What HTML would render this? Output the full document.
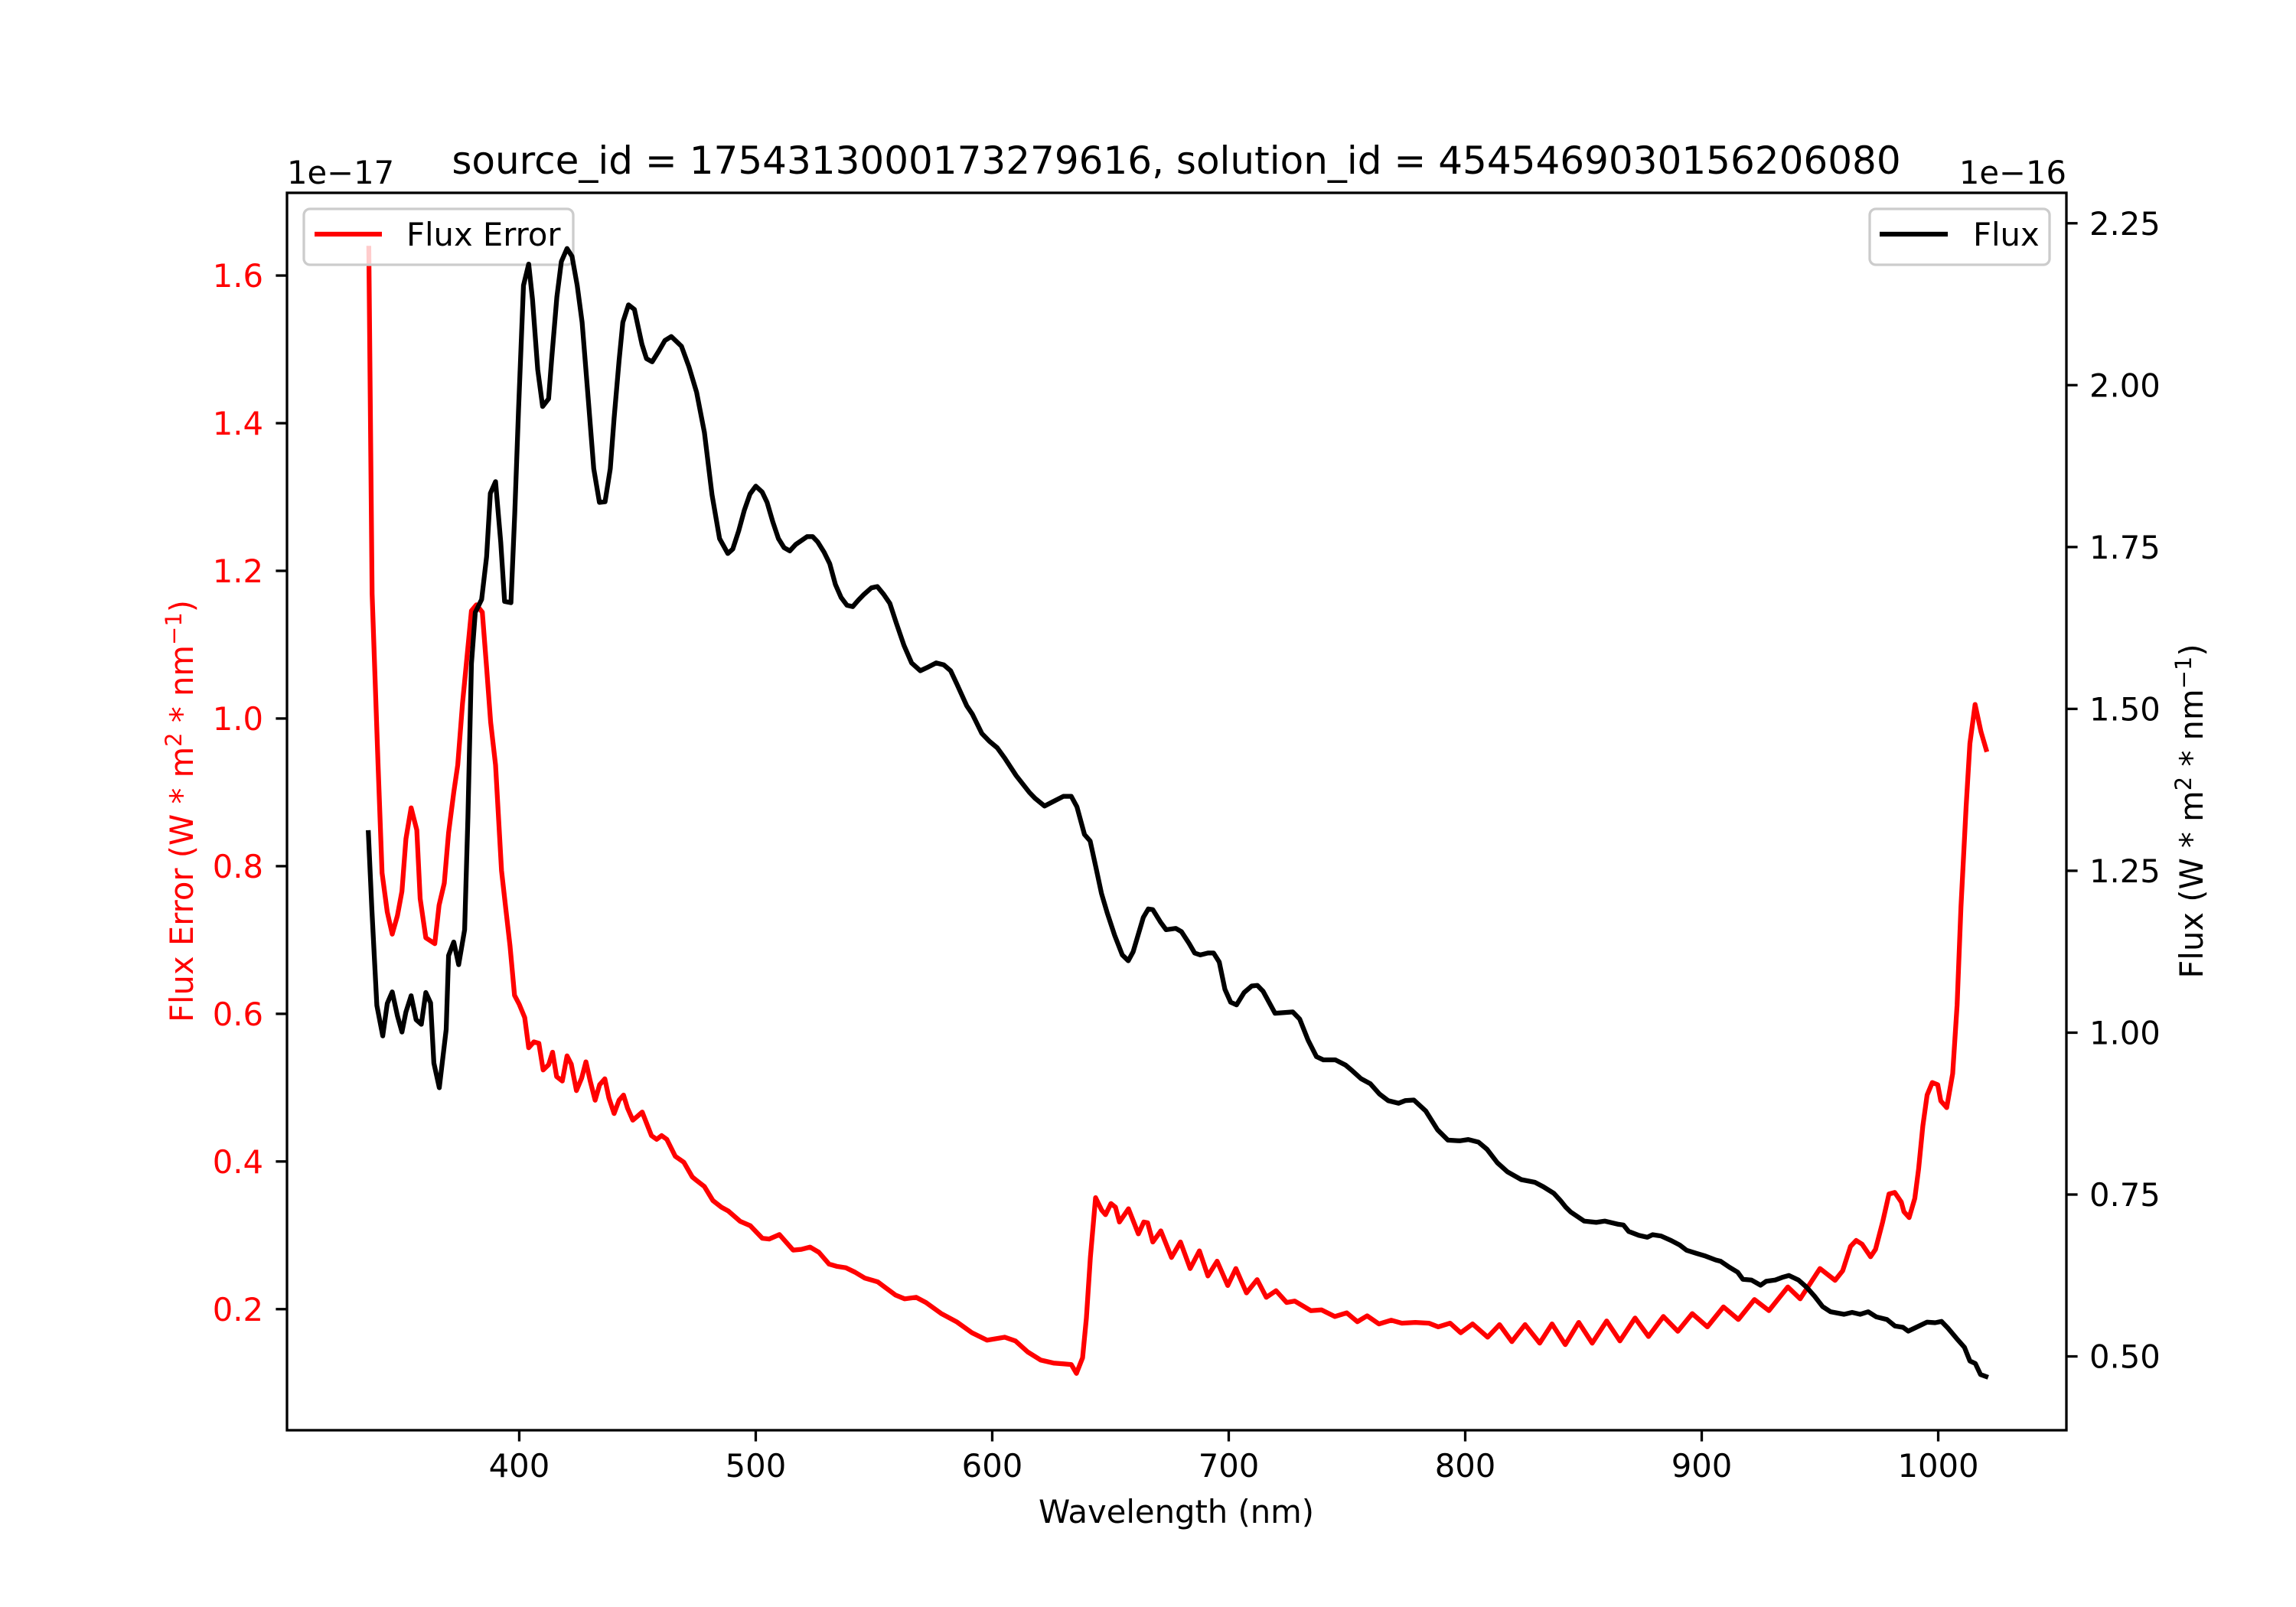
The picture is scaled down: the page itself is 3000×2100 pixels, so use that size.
<!DOCTYPE html>
<html>
<head>
<meta charset="utf-8">
<style>
  html, body { margin:0; padding:0; background:#fff; }
  svg { display:block; font-family: "DejaVu Sans", "Liberation Sans", sans-serif; }
</style>
</head>
<body>
<svg id="chart" xmlns="http://www.w3.org/2000/svg" width="3000" height="2100" viewBox="0 0 3000 2100">
  <rect x="0" y="0" width="3000" height="2100" fill="#fff"/>
  <text x="1537" y="227" font-size="50" text-anchor="middle" fill="#000">source_id = 1754313000173279616, solution_id = 4545469030156206080</text>
  <text x="375" y="240" font-size="41.7" text-anchor="start" fill="#000">1e−17</text>
  <text x="2700" y="240" font-size="41.7" text-anchor="end" fill="#000">1e−16</text>
  <g id="ticks"></g>
  <g id="series"></g>
  <text x="1537" y="1990" font-size="41.7" text-anchor="middle" fill="#000">Wavelength (nm)</text>
  <text transform="translate(252,1060) rotate(-90)" font-size="41.7" text-anchor="middle" fill="#ff0000">Flux Error (W * m<tspan dy="-15" font-size="29">2</tspan><tspan dy="15"> * nm</tspan><tspan dy="-15" font-size="29">−1</tspan><tspan dy="15">)</tspan></text>
  <text transform="translate(2878,1060) rotate(-90)" font-size="41.7" text-anchor="middle" fill="#000">Flux (W * m<tspan dy="-15" font-size="29">2</tspan><tspan dy="15"> * nm</tspan><tspan dy="-15" font-size="29">−1</tspan><tspan dy="15">)</tspan></text>
</svg>
<script>
const xTicks = [400, 500, 600, 700, 800, 900, 1000];
const leftTicks = [0.2, 0.4, 0.6, 0.8, 1.0, 1.2, 1.4, 1.6];
const leftTickLabels = ["0.2","0.4","0.6","0.8","1.0","1.2","1.4","1.6"];
const rightTicks = [0.5, 0.75, 1.0, 1.25, 1.5, 1.75, 2.0, 2.25];
const rightTickLabels = ["0.50","0.75","1.00","1.25","1.50","1.75","2.00","2.25"];

const fluxWl = [336.2,337.7,339.8,342.3,344.2,346.3,348.5,350.4,352.1,354.3,356.4,358.6,360.5,362.5,363.9,366.2,369.1,370.1,372.3,374.4,376.9,378.3,
379.8,381.4,384.1,386.2,387.8,390.0,392.2,393.8,396.5,398.1,399.7,401.8,404.0,405.6,407.8,409.9,412.4,413.7,415.9,417.8,420.2,422.3,424.5,426.6,429.3,431.5,433.9,436.3,438.5,440.1,442.2,443.8,446.2,448.7,451.9,453.8,456.2,458.9,461.6,464.3,468.6,471.8,475.0,478.3,481.5,484.7,
488.2,490.3,492.8,495.2,497.6,500.0,502.7,504.8,507.2,509.6,512.0,514.4,516.9,521.7,524.1,526.2,528.9,531.3,533.7,536.1,538.6,541.0,543.4,545.8,548.9,551.4,554.1,556.7,559.4,562.7,565.9,569.6,573.1,576.3,579.5,582.4,585.1,589.2,591.6,595.6,598.8,602.1,605.3,610.1,615.7,618.1,622.1,625.3,630.1,633.4,635.8,639.0,641.4,643.8,646.2,648.6,651.8,655.0,657.5,659.6,663.9,666.0,667.9,671.1,673.5,677.6,680.0,683.2,685.6,688.0,691.2,693.6,696.0,698.4,700.8,703.3,706.5,709.7,712.1,714.5,
719.6,727.1,730.0,733.6,737.1,740.0,745.1,749.4,752.3,755.9,759.9,763.8,767.4,771.8,774.6,778.3,783.3,788.3,792.7,797.7,801.3,805.6,809.2,813.6,817.9,823.7,829.4,833.0,837.4,840.2,842.4,844.6,850.3,855.4,859.0,864.8,866.9,869.1,873.4,877.0,879.2,882.8,887.1,890.7,893.6,897.9,901.6,905.9,908.0,911.6,915.2,917.4,921.0,924.9,927.2,931.1,934.0,936.9,
940.9,944.3,947.7,951.1,954.5,960.2,963.6,967.0,970.4,973.8,978.3,981.7,985.1,987.3,990.7,995.3,998.7,1001.4,1004.3,1007.7,1011.1,1013.4,1015.7,1017.9,1020.2];
const fluxVal = [1.309,1.190,1.042,0.995,1.045,1.063,1.026,1.001,1.032,1.057,1.020,1.013,1.062,1.046,0.953,0.915,1.005,1.119,1.140,1.105,1.159,1.333,
1.570,1.649,1.669,1.735,1.833,1.851,1.757,1.666,1.664,1.802,1.961,2.154,2.187,2.132,2.024,1.967,1.979,2.040,2.136,2.191,2.211,2.199,2.154,2.097,1.973,1.871,1.819,1.820,1.871,1.949,2.038,2.097,2.124,2.117,2.063,2.041,2.036,2.052,2.069,2.075,2.060,2.028,1.989,1.927,1.831,1.763,
1.740,1.747,1.775,1.807,1.832,1.844,1.835,1.819,1.789,1.763,1.749,1.744,1.754,1.766,1.766,1.758,1.742,1.724,1.692,1.672,1.660,1.658,1.668,1.677,1.687,1.689,1.677,1.663,1.633,1.598,1.571,1.559,1.565,1.571,1.568,1.559,1.538,1.505,1.492,1.462,1.450,1.440,1.424,1.397,1.371,1.362,1.350,1.356,1.365,1.365,1.349,1.306,1.296,1.256,1.215,1.185,1.150,1.120,1.111,1.125,1.178,1.191,1.190,1.171,1.159,1.161,1.156,1.138,1.123,1.120,1.123,1.123,1.109,1.067,1.047,1.043,1.062,1.072,1.073,1.064,
1.030,1.032,1.021,0.988,0.963,0.958,0.958,0.950,0.941,0.929,0.921,0.905,0.895,0.891,0.895,0.896,0.879,0.850,0.834,0.833,0.835,0.831,0.820,0.799,0.785,0.773,0.769,0.762,0.752,0.741,0.731,0.723,0.709,0.707,0.709,0.704,0.703,0.693,0.687,0.684,0.688,0.686,0.679,0.672,0.664,0.659,0.655,0.649,0.647,0.638,0.630,0.619,0.618,0.610,0.616,0.618,0.622,0.625,
0.618,0.607,0.593,0.577,0.569,0.565,0.568,0.565,0.569,0.561,0.557,0.547,0.545,0.539,0.545,0.553,0.552,0.554,0.543,0.528,0.514,0.493,0.489,0.472,0.469];

const errWl = [336.4,337.8,340.3,342.0,344.2,346.3,348.5,350.4,352.1,354.3,356.7,358.1,360.5,364.3,366.1,368.3,370.1,372.3,374.0,376.0,379.8,381.9,384.4,386.2,387.9,390.0,
392.5,394.3,396.1,398.0,400.0,402.3,404.0,406.2,408.3,410.1,412.4,414.1,415.8,418.2,420.2,422.0,424.2,426.4,428.2,430.0,432.1,434.0,436.2,437.9,440.1,442.2,444.1,445.8,448.0,449.9,452.0,453.7,455.9,458.1,460.2,462.4,466.0,469.6,473.2,474.7,478.3,481.9,485.5,488.4,493.4,497.7,502.8,505.7,510.0,515.8,519.3,523.0,
526.7,531.0,534.2,538.1,542.0,546.2,551.6,554.9,559.1,563.0,567.8,572.0,578.5,584.9,591.4,597.8,605.3,609.8,615.0,620.5,625.9,630.1,633.4,635.6,638.2,639.8,641.5,643.7,646.3,647.9,650.2,652.1,653.8,657.6,661.8,664.1,665.7,
667.9,671.3,675.8,679.6,683.7,687.6,691.2,695.1,699.6,703.0,707.5,712.0,715.9,720.0,724.5,727.9,734.7,739.2,744.9,749.9,754.4,758.5,763.5,768.7,773.2,778.9,784.6,788.6,793.6,798.1,803.1,809.5,814.5,819.7,825.3,831.5,836.7,842.3,848.0,853.7,859.8,865.4,871.8,877.5,883.8,889.9,896.0,902.4,909.2,915.5,922.3,928.4,936.4,941.6,950.0,
956.4,959.6,962.9,965.3,967.8,971.4,973.5,976.5,979.2,981.6,984.4,985.5,987.7,990.1,991.7,993.5,995.3,997.5,999.8,1001.1,1003.6,1006.1,1008.0,1009.6,1011.8,1013.4,1015.6,1018.1,1020.3];
const errVal = [1.637,1.169,0.937,0.791,0.738,0.708,0.733,0.766,0.837,0.879,0.849,0.756,0.703,0.695,0.747,0.777,0.845,0.900,0.937,1.020,1.146,1.154,1.144,1.069,0.995,0.937,
0.794,0.743,0.692,0.625,0.613,0.595,0.554,0.562,0.560,0.524,0.531,0.548,0.515,0.509,0.543,0.532,0.496,0.513,0.535,0.509,0.483,0.504,0.512,0.486,0.465,0.483,0.490,0.472,0.456,0.461,0.467,0.453,0.435,0.430,0.435,0.430,0.407,0.399,0.379,0.375,0.366,0.347,0.338,0.333,0.319,0.313,0.296,0.295,0.301,0.280,0.281,0.284,
0.277,0.261,0.258,0.256,0.250,0.242,0.237,0.229,0.219,0.214,0.216,0.209,0.194,0.183,0.168,0.158,0.162,0.157,0.142,0.131,0.127,0.126,0.125,0.113,0.134,0.188,0.270,0.351,0.334,0.328,0.343,0.338,0.318,0.336,0.302,0.318,0.317,
0.291,0.306,0.270,0.291,0.255,0.279,0.245,0.265,0.232,0.255,0.222,0.240,0.216,0.225,0.209,0.211,0.198,0.199,0.190,0.195,0.183,0.191,0.180,0.185,0.181,0.182,0.181,0.176,0.181,0.168,0.180,0.162,0.179,0.156,0.179,0.154,0.180,0.152,0.182,0.154,0.184,0.157,0.188,0.163,0.190,0.170,0.194,0.176,0.203,0.186,0.213,0.198,0.230,0.214,0.255,
0.239,0.252,0.285,0.293,0.288,0.271,0.281,0.318,0.356,0.358,0.345,0.332,0.324,0.350,0.390,0.448,0.490,0.507,0.504,0.482,0.473,0.519,0.612,0.744,0.881,0.966,1.019,0.982,0.958];

const NS = 'http://www.w3.org/2000/svg';
const AX = {left:375, right:2700, top:252, bottom:1869};
const XMIN = 301.8, XMAX = 1054.2;
const LMIN = 0.036, LMAX = 1.712;
const RMIN = 0.386, RMAX = 2.297;
function xScale(v){ return AX.left + (v - XMIN) / (XMAX - XMIN) * (AX.right - AX.left); }
function yLeft(v){ return AX.bottom - (v - LMIN) / (LMAX - LMIN) * (AX.bottom - AX.top); }
function yRight(v){ return AX.bottom - (v - RMIN) / (RMAX - RMIN) * (AX.bottom - AX.top); }

function mk(tag, attrs, parent){
  const el = document.createElementNS(NS, tag);
  for (const k in attrs) el.setAttribute(k, attrs[k]);
  parent.appendChild(el);
  return el;
}
const ticksG = document.getElementById('ticks');
const seriesG = document.getElementById('series');

// x ticks
xTicks.forEach(function(t){
  const x = xScale(t);
  const ln = mk('line', {x1:x, y1:AX.bottom, x2:x, y2:AX.bottom+14.6, stroke:'#000', 'stroke-width':3.3}, ticksG);
  
  
  const tx = mk('text', {x:x, y:1930, 'font-size':41.7, 'text-anchor':'middle', fill:'#000'}, ticksG);
  tx.textContent = String(t);
  
  
});
// left ticks
leftTicks.forEach(function(t, i){
  const y = yLeft(t);
  const ln = mk('line', {x1:AX.left-14.6, y1:y, x2:AX.left, y2:y, stroke:'#000', 'stroke-width':3.3}, ticksG);
  
  
  const tx = mk('text', {x:344, y:y+15, 'font-size':41.7, 'text-anchor':'end', fill:'#ff0000'}, ticksG);
  tx.textContent = leftTickLabels[i];
  
  
});
// right ticks
rightTicks.forEach(function(t, i){
  const y = yRight(t);
  const ln = mk('line', {x1:AX.right, y1:y, x2:AX.right+14.6, y2:y, stroke:'#000', 'stroke-width':3.3}, ticksG);
  
  
  const tx = mk('text', {x:2730, y:y+15, 'font-size':41.7, 'text-anchor':'start', fill:'#000'}, ticksG);
  tx.textContent = rightTickLabels[i];
  
  
});

// clip
const defs = mk('defs', {}, seriesG);
const cp = mk('clipPath', {id:'plotclip'}, defs);
mk('rect', {x:AX.left, y:AX.top, width:AX.right-AX.left, height:AX.bottom-AX.top}, cp);

function pathFrom(xs, ys, yf){
  let d = '';
  for (let i = 0; i < xs.length; i++) {
    d += (i ? 'L' : 'M') + xScale(xs[i]).toFixed(1) + ',' + yf(ys[i]).toFixed(1);
  }
  return d;
}

// flux error line (left axis)
const errPath = mk('path', {d:pathFrom(errWl, errVal, yLeft), fill:'none', stroke:'#ff0000', 'stroke-width':6.25, 'stroke-linejoin':'round', 'stroke-linecap':'square', 'clip-path':'url(#plotclip)'}, seriesG);



// legend 1
const lg1 = mk('g', {}, seriesG);


mk('rect', {x:397, y:273, width:352, height:73, rx:8, fill:'#fff', 'fill-opacity':0.8, stroke:'#cccccc', 'stroke-width':3.3}, lg1);
mk('line', {x1:411, y1:306, x2:499, y2:306, stroke:'#ff0000', 'stroke-width':6.25}, lg1);
const lg1t = mk('text', {x:531, y:321, 'font-size':41.7, fill:'#000'}, lg1);
lg1t.textContent = 'Flux Error';

// flux line (right axis)
const fluxPath = mk('path', {d:pathFrom(fluxWl, fluxVal, yRight), fill:'none', stroke:'#000', 'stroke-width':6.25, 'stroke-linejoin':'round', 'stroke-linecap':'square', 'clip-path':'url(#plotclip)'}, seriesG);



// legend 2
const lg2 = mk('g', {}, seriesG);


mk('rect', {x:2443, y:273, width:235, height:73, rx:8, fill:'#fff', 'fill-opacity':0.8, stroke:'#cccccc', 'stroke-width':3.3}, lg2);
mk('line', {x1:2456, y1:306, x2:2545, y2:306, stroke:'#000', 'stroke-width':6.25}, lg2);
const lg2t = mk('text', {x:2578, y:321, 'font-size':41.7, fill:'#000'}, lg2);
lg2t.textContent = 'Flux';

// axes frame
const frame = mk('rect', {x:AX.left, y:AX.top, width:AX.right-AX.left, height:AX.bottom-AX.top, fill:'none', stroke:'#000', 'stroke-width':3.3}, seriesG);


</script>
</body>
</html>
